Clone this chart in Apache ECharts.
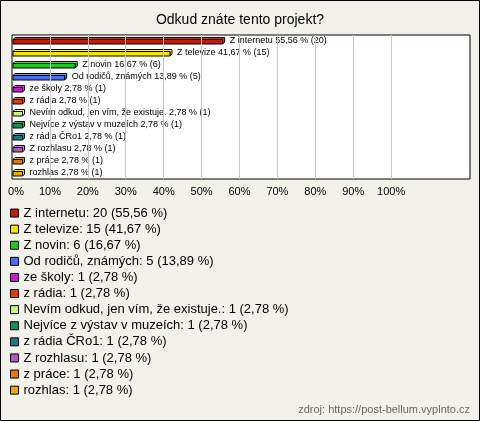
<!DOCTYPE html>
<html><head><meta charset="utf-8">
<script src="https://cdn.jsdelivr.net/npm/echarts@6/dist/echarts.min.js"></script>
<style>html,body{margin:0;padding:0;background:#f3f2ea}#c{width:480px;height:421px}</style>
</head><body><div id="c"></div>
<script>
var categories = ['Z internetu','Z televize','Z novin','Od rodičů, známých','ze školy','z rádia','Nevím odkud, jen vím, že existuje.','Nejvíce z výstav v muzeích','z rádia ČRo1','Z rozhlasu','z práce','rozhlas'];
var counts = [20,15,6,5,1,1,1,1,1,1,1,1];
var percents = [55.56,41.67,16.67,13.89,2.78,2.78,2.78,2.78,2.78,2.78,2.78,2.78];
var colors = ['#c11b0b','#f5e600','#1ec81e','#4a6ef0','#c81ed0','#e03c10','#c8f57a','#10935a','#1a7a8a','#b25ab8','#e8780a','#e6b000'];
var gridTicks = [10,20,30,40,50,60,70,80,90,100];

function fmt(p){ return p.toFixed(2).replace('.', ','); }

var series = categories.map(function(name, i){
  return {
    type:'custom', name:name, coordinateSystem:'cartesian2d',
    itemStyle:{color:colors[i]},
    encode:{x:0,y:1},
    data:[[percents[i], i]],
    renderItem:function(params, api){
      var v = api.value(0), c = api.value(1);
      var s = api.coord([0, c]), e = api.coord([v, c]);
      var x0 = s[0] + 1, x1 = e[0], yc = s[1];
      var yt = yc - 1.5, yb = yc + 3, d = 2;
      var col = colors[i];
      var dark = echarts.color.lift(col, -0.35);
      return {type:'group', children:[
        {type:'polygon', shape:{points:[[x0,yt],[x0+d,yt-d],[x1+d,yt-d],[x1+d,yb-d],[x1,yb],[x1,yt]]},
         style:{fill:dark, stroke:'#000', lineWidth:1}},
        {type:'rect', shape:{x:x0, y:yt, width:x1-x0, height:yb-yt},
         style:{fill:col, stroke:'#000', lineWidth:1}},
        {type:'text', x:x1+7, y:yc,
         style:{text:name+' '+fmt(percents[i])+' % ('+counts[i]+')', fill:'#000', fontSize:9,
                fontFamily:'Liberation Sans, Arial, sans-serif', verticalAlign:'middle', align:'left'}}
      ]};
    }
  };
});

series.unshift({
  type:'scatter', name:'_grid', data:[], silent:true,
  markLine:{silent:true, symbol:['none','none'], label:{show:false},
    lineStyle:{color:'#c8c8c8', type:'solid', width:1},
    data: gridTicks.map(function(t){ return {xAxis:t}; })}
});

var chart = echarts.init(document.getElementById('c'), null, {renderer:'canvas'});
chart.setOption({
  backgroundColor:'#f3f2ea',
  animation:false,
  textStyle:{fontFamily:'Liberation Sans, Arial, sans-serif'},
  title:{text:'Odkud znáte tento projekt?', left:'center', top:8,
    textStyle:{fontSize:14, fontWeight:'normal', color:'#000', fontFamily:'Liberation Sans, Arial, sans-serif'}},
  grid:{left:12, right:10, top:35, bottom:242, show:true, backgroundColor:'#fff', borderColor:'#000', borderWidth:1},
  xAxis:{type:'value', min:0, max:120.8, interval:10,
    axisLine:{show:false}, axisTick:{show:false}, splitLine:{show:false},
    axisLabel:{margin:7, fontSize:11, color:'#000',
      formatter:function(v){ if(v>100) return ''; if(v===0) return '{z|0%}'; return v+'%'; },
      rich:{z:{fontSize:11, color:'#000', padding:[0,0,0,8]}}}},
  yAxis:{type:'category', data:categories, inverse:true, show:false},
  legend:{orient:'vertical', left:5, top:200, itemGap:0, itemWidth:8, itemHeight:8, icon:'rect',
    data:categories,
    itemStyle:{borderColor:'#000', borderWidth:1},
    textStyle:{fontSize:13, color:'#000', lineHeight:16.1, fontFamily:'Liberation Sans, Arial, sans-serif'},
    formatter:function(name){ var i = categories.indexOf(name); return name+': '+counts[i]+' ('+fmt(percents[i])+' %)'; }},
  graphic:[
    {type:'rect', shape:{x:0.5, y:0.5, width:479, height:420}, style:{fill:'none', stroke:'#000', lineWidth:1}, silent:true},
    {type:'text', right:10, top:404, style:{text:'zdroj: https://post-bellum.vyplnto.cz', fill:'#666', fontSize:11,
      fontFamily:'Liberation Sans, Arial, sans-serif'}}
  ],
  series:series
});
</script></body></html>
